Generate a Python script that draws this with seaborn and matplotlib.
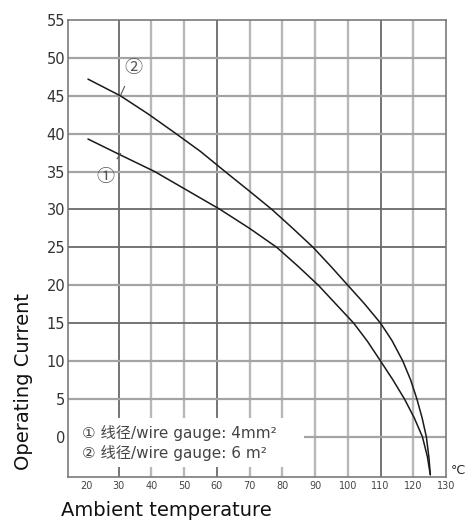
import numpy as np
import pandas as pd
import matplotlib
matplotlib.use("Agg")
import matplotlib.pyplot as plt
from matplotlib.patches import Rectangle
import seaborn as sns

# ---- data ----
temps_4mm = [20.6, 30, 41, 51, 61, 70, 78.3, 84.8, 91, 96.4, 101.8, 106, 110,
             113.8, 117.3, 120.3, 122.8, 124.3, 125.2]
current_4mm = [39.3, 37.3, 35.0, 32.5, 30.0, 27.5, 25.0, 22.5, 20.0, 17.5, 15.0, 12.6, 10.0,
               7.5, 5.0, 2.5, 0.0, -2.6, -5.0]

temps_6mm = [20.6, 30.5, 39, 47.5, 55, 62.5, 70, 76.8, 83.2, 89.4, 94.8, 100, 105, 110,
             113.5, 116.8, 119.2, 121.1, 122.7, 124, 124.8, 125.2]
current_6mm = [47.2, 45.0, 42.6, 40.0, 37.65, 35.0, 32.4, 30.0, 27.5, 25.0, 22.5, 20.0, 17.6, 15.0,
               12.7, 10.0, 7.5, 5.0, 2.5, 0.0, -2.8, -5.0]

series_names = ["4mm2", "6mm2"]
x_ticks = [20, 30, 40, 50, 60, 70, 80, 90, 100, 110, 120, 130]
y_ticks = [0, 5, 10, 15, 20, 25, 30, 35, 40, 45, 50, 55]
legend_lines = ["\u2460 线径/wire gauge: 4mm\u00b2", "\u2461 线径/wire gauge: 6 m\u00b2"]
curve_labels = ["\u2460", "\u2461"]
x_label = "Ambient temperature"
y_label = "Operating Current"
unit_label = "°C"

df = pd.DataFrame({
    "temp": temps_4mm + temps_6mm,
    "current": current_4mm + current_6mm,
    "series": [series_names[0]] * len(temps_4mm) + [series_names[1]] * len(temps_6mm),
})

sns.set_theme(style="white")
plt.rcParams["font.family"] = ["DejaVu Sans"]

fig = plt.figure(figsize=(4.67, 5.22), dpi=100)
ax = fig.add_axes([68 / 467, 45 / 522, (446 - 68) / 467, (477 - 20) / 522])
ax.set_xlim(14.5, 130)
ax.set_ylim(-5.3, 55)

# grid lines (darker / lighter like the scan)
dark_v = {30, 60, 110}
for xv in x_ticks[1:-1]:
    if xv in dark_v:
        ax.axvline(xv, color="#6a6a6a", lw=1.3, zorder=1)
    else:
        ax.axvline(xv, color="#b8b8b8", lw=1.7, zorder=1)
dark_h = {30, 25, 15}
for yv in y_ticks[:-1]:
    if yv in dark_h:
        ax.axhline(yv, color="#6a6a6a", lw=1.3, zorder=1)
    else:
        ax.axhline(yv, color="#a4a4a4", lw=1.6, zorder=1)

# white box behind legend text
ax.add_patch(Rectangle((14.5, -4.0), 86.5 - 14.5, 6.5, facecolor="white",
                       edgecolor="none", zorder=2))

sns.lineplot(data=df, x="temp", y="current", hue="series", sort=False,
             estimator=None, palette=["#1a1a1a", "#1a1a1a"], lw=1.1,
             legend=False, ax=ax, zorder=3)

ax.set_xticks(x_ticks)
ax.set_yticks(y_ticks)
ax.set_xticklabels([str(v) for v in x_ticks], fontsize=7, color="#444444")
ax.set_yticklabels([str(v) for v in y_ticks], fontsize=10.5, color="#333333")
ax.tick_params(axis="both", length=0)
ax.tick_params(axis="y", pad=2)
ax.tick_params(axis="x", pad=3)
ax.set_xlabel("")
ax.set_ylabel("")
for s in ax.spines.values():
    s.set_color("#7a7a7a")
    s.set_linewidth(1.2)
    s.set_zorder(5)

# curve annotations
ann_font = ["Noto Sans CJK SC", "DejaVu Sans"]
ax.annotate(curve_labels[1], xy=(30.6, 45.1), xytext=(34.4, 48.7),
            fontsize=13, color="#555555", ha="center", va="center",
            family=ann_font,
            arrowprops=dict(arrowstyle="-", color="#555555", lw=0.8,
                            shrinkA=5, shrinkB=0), zorder=4)
ax.annotate(curve_labels[0], xy=(30.6, 37.4), xytext=(25.8, 34.3),
            fontsize=13, color="#555555", ha="center", va="center",
            family=ann_font,
            arrowprops=dict(arrowstyle="-", color="#555555", lw=0.8,
                            shrinkA=5, shrinkB=0), zorder=4)

# legend text
leg_font = ["DejaVu Sans", "Noto Sans CJK SC"]
ax.text(18.8, 0.5, legend_lines[0], fontsize=11, color="#444444",
        va="center", ha="left", family=leg_font, zorder=4)
ax.text(18.8, -2.1, legend_lines[1], fontsize=11, color="#444444",
        va="center", ha="left", family=leg_font, zorder=4)

fig.text(24 / 467, 1 - 382 / 522, y_label, rotation=90, fontsize=14,
         ha="center", va="center", color="#111111")
fig.text(166 / 467, 1 - 511 / 522, x_label, fontsize=14,
         ha="center", va="center", color="#111111")
fig.text(451 / 467, 1 - 471 / 522, unit_label, fontsize=9, ha="left",
         va="center", color="#222222")

fig.savefig("out.png", dpi=100)
